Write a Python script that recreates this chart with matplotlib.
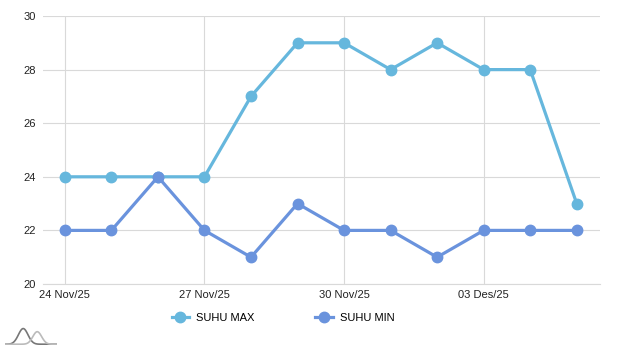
import numpy as np
import matplotlib
matplotlib.use("Agg")
import matplotlib.pyplot as plt
from matplotlib.lines import Line2D

plt.rcParams['font.family'] = ['Liberation Sans', 'DejaVu Sans']

# daily temperature, 24 Nov 2025 .. 05 Des 2025
days = list(range(12))
suhu_max = [24, 24, 24, 24, 27, 29, 29, 28, 29, 28, 28, 23]
suhu_min = [22, 22, 24, 22, 21, 23, 22, 22, 21, 22, 22, 22]
tick_pos = [0, 3, 6, 9]
tick_labels = ["24 Nov/25", "27 Nov/25", "30 Nov/25", "03 Des/25"]

c_max = "#66b7dd"
c_min = "#6a93dd"

fig = plt.figure(figsize=(6.2, 3.48), dpi=100)
ax = fig.add_axes([43/620, 1 - 284/348, (600-43)/620, (284-16)/348])

ax.plot(days, suhu_max, color=c_max, lw=2.3, marker="o", ms=7.5, zorder=3)
ax.plot(days, suhu_min, color=c_min, lw=2.3, marker="o", ms=7.5, zorder=3)

ax.set_xlim(-0.47, 11.5)
ax.set_ylim(20, 30)
ax.set_yticks(range(20, 31, 2))
ax.set_xticks(tick_pos)
ax.set_xticklabels(tick_labels)
ax.grid(True, color="#d9d9d9", lw=0.8)
for s in ax.spines.values():
    s.set_visible(False)
ax.spines['bottom'].set_visible(True)
ax.spines['bottom'].set_color("#d9d9d9")
ax.tick_params(length=0, labelsize=8, colors="#222222")
ax.tick_params(axis='y', pad=5)
ax.tick_params(axis='x', pad=4)

handles = [Line2D([], [], color=c_max, lw=2.3, marker="o", ms=7.5),
           Line2D([], [], color=c_min, lw=2.3, marker="o", ms=7.5)]
fig.legend(handles, ["SUHU MAX", "SUHU MIN"], loc="center", ncol=2,
           bbox_to_anchor=(283/620, 1 - 318/348), frameon=False,
           fontsize=8, handlelength=1.6, columnspacing=5.5, handletextpad=0.6)

# small logo, bottom left
lx = fig.add_axes([5/620, 1 - 345/348, 52/620, 18/348])
t = np.linspace(0, 1, 100)
lx.plot(t, np.exp(-((t - 0.35) / 0.13) ** 2), color="#777777", lw=1.2)
lx.plot(t, 0.8 * np.exp(-((t - 0.62) / 0.12) ** 2), color="#bbbbbb", lw=1.2)
lx.set_xlim(0, 1)
lx.set_ylim(-0.05, 1.1)
lx.axis("off")

fig.savefig("out.png", dpi=100)
